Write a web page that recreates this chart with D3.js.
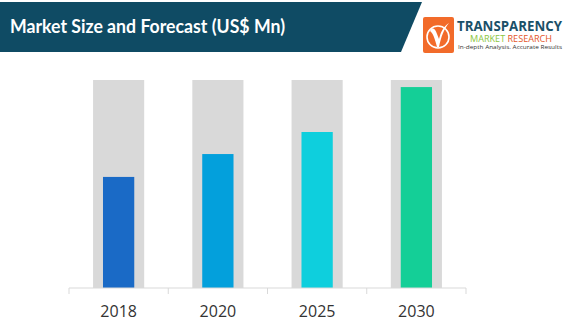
<!DOCTYPE html>
<meta charset="utf-8">
<head>
    <script src="https://cdn.jsdelivr.net/npm/d3@7"></script>
    <style>
        body { margin: 0; background: #fff; }
        .tick-label { font-family: "Open Sans", sans-serif; font-size: 16px; fill: #333; }
    </style>
</head>
<body>
<script type="text/javascript">

    // chart data
    var years = ["2018", "2020", "2025", "2030"];
    var values = [53.4, 64.4, 75.0, 96.6];
    var maxValue = 100;
    var barColors = ["#1a6ac6", "#03a0dc", "#0ecfdd", "#14cf97"];
    var titleText = "Market Size and Forecast (US$ Mn)";

    var width = 567;
    var height = 329;

    var svg = d3.select("body")
        .append("svg")
        .attr("width", width)
        .attr("height", height);

    // header banner
    svg.append("path")
        .attr("d", "M0,2 L422,2 L401,52 L0,52 Z")
        .attr("fill", "#0f4b64");

    svg.append("text")
        .attr("x", 10)
        .attr("y", 33)
        .attr("fill", "#fff")
        .style("font-family", "Lato, sans-serif")
        .style("font-weight", "bold")
        .style("font-size", "18px")
        .attr("textLength", 275)
        .attr("lengthAdjust", "spacingAndGlyphs")
        .text(titleText);

    // logo
    var logo = svg.append("g").attr("transform", "translate(423,17)");
    logo.append("rect")
        .attr("width", 31)
        .attr("height", 36)
        .attr("rx", 2)
        .attr("fill", "#f26b2a");
    logo.append("path")
        .attr("d", "M7,14 C9,10 12,11 14,17 L16,22 C18,14 21,9 26,6 C21,12 18,20 16,30 L14,30 C12,22 10,16 7,14 Z")
        .attr("fill", "#fff");
    logo.append("circle")
        .attr("cx", 15).attr("cy", 20).attr("r", 11)
        .attr("fill", "none").attr("stroke", "#fff").attr("stroke-width", 1.6);

    svg.append("text")
        .attr("x", 457).attr("y", 31)
        .attr("fill", "#1a5068")
        .style("font-family", "'Open Sans', sans-serif")
        .style("font-weight", "bold")
        .style("font-size", "14px")
        .attr("textLength", 105)
        .attr("lengthAdjust", "spacingAndGlyphs")
        .text("TRANSPARENCY");

    var mr = svg.append("text")
        .attr("x", 470).attr("y", 42)
        .style("font-family", "'Open Sans', sans-serif")
        .style("font-size", "9px")
        .attr("textLength", 82)
        .attr("lengthAdjust", "spacingAndGlyphs");
    mr.append("tspan").attr("fill", "#8cc63e").text("MARKET ");
    mr.append("tspan").attr("fill", "#e4562a").text("RESEARCH");

    svg.append("text")
        .attr("x", 458).attr("y", 49)
        .attr("fill", "#333")
        .style("font-family", "'Open Sans', sans-serif")
        .style("font-size", "6px")
        .attr("textLength", 104)
        .attr("lengthAdjust", "spacingAndGlyphs")
        .text("In-depth Analysis. Accurate Results");

    // scales
    var x = d3.scaleBand()
        .domain(years)
        .range([69, 466]);

    var y = d3.scaleLinear()
        .domain([0, maxValue])
        .range([288, 80]);

    var backW = x.bandwidth() * 0.515;
    var barW = x.bandwidth() * 0.315;

    // background columns
    svg.append("g")
        .selectAll("rect")
        .data(years)
        .enter()
        .append("rect")
        .attr("x", function (d) { return x(d) + (x.bandwidth() - backW) / 2; })
        .attr("y", y(maxValue))
        .attr("width", backW)
        .attr("height", y(0) - y(maxValue))
        .attr("fill", "#d9d9d9");

    // value bars
    svg.append("g")
        .selectAll("rect")
        .data(values)
        .enter()
        .append("rect")
        .attr("x", function (d, i) { return x(years[i]) + (x.bandwidth() - barW) / 2; })
        .attr("y", function (d) { return y(d); })
        .attr("width", barW)
        .attr("height", function (d) { return y(0) - y(d); })
        .attr("fill", function (d, i) { return barColors[i]; });

    // x axis
    var axis = svg.append("g").attr("transform", "translate(0,288)");
    axis.append("line")
        .attr("x1", 69).attr("x2", 466)
        .attr("stroke", "#d9d9d9").attr("stroke-width", 1);
    var edges = years.map(function (d) { return x(d); }).concat([x.range()[1]]);
    axis.selectAll(".edge")
        .data(edges)
        .enter()
        .append("line")
        .attr("class", "edge")
        .attr("x1", function (d) { return d; })
        .attr("x2", function (d) { return d; })
        .attr("y1", 0).attr("y2", 6)
        .attr("stroke", "#d9d9d9");
    axis.selectAll(".tick-label")
        .data(years)
        .enter()
        .append("text")
        .attr("class", "tick-label")
        .attr("x", function (d) { return x(d) + x.bandwidth() / 2; })
        .attr("y", 29)
        .attr("text-anchor", "middle")
        .text(function (d) { return d; });

</script>
</body>
</html>
